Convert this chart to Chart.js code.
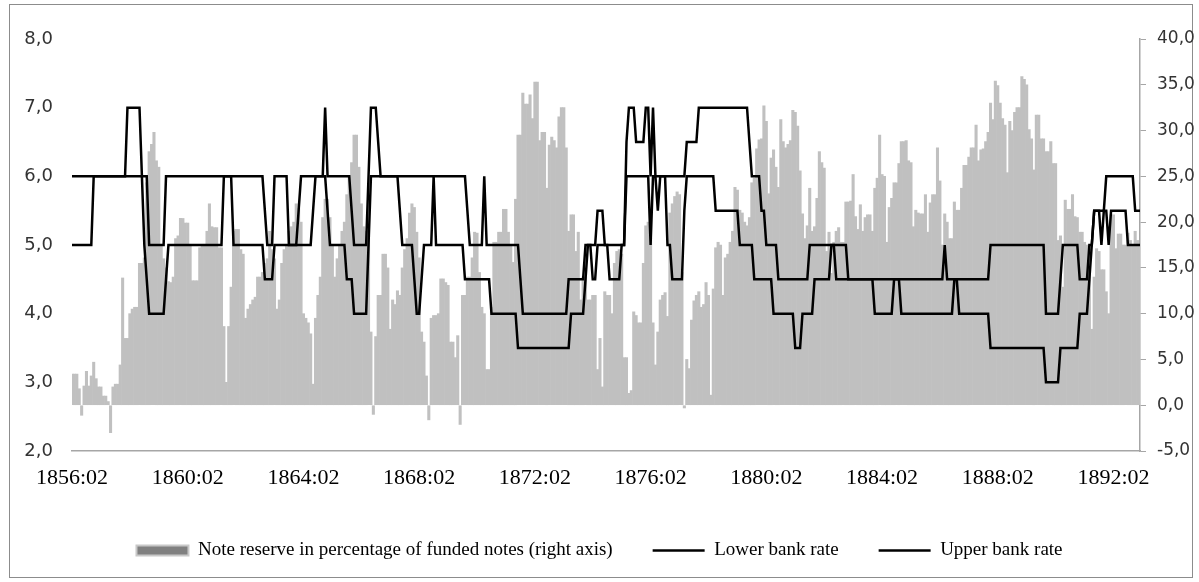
<!DOCTYPE html>
<html>
<head>
<meta charset="utf-8">
<script src="https://cdn.jsdelivr.net/npm/chart.js@4.4.0/dist/chart.umd.min.js"></script>
<style>
  html, body { margin: 0; padding: 0; background: #fff; }
  #wrap { position: relative; width: 1199px; height: 582px; }
</style>
</head>
<body>
<div id="wrap"><canvas id="grafico"></canvas></div>
<script>
// Monthly series, first month 1856:02
const startYear = 1856;
const startMonth = 2;
const tickEvery = 48;

// Note reserve in % of funded notes (right axis)
const noteReserve = [
  3.4, 3.4, 3.4, 1.8, -1.1, 2.1, 3.7, 2.1, 3.2, 4.7, 2.9, 2.0,
  2.0, 1.0, 1.0, 0.4, -3.0, 2.0, 2.3, 2.3, 4.4, 13.9, 7.3, 7.3,
  10.0, 10.5, 10.7, 10.7, 15.5, 15.5, 16.1, 24.3, 27.7, 28.5, 29.8, 26.7,
  26.0, 17.5, 16.0, 15.0, 13.5, 13.4, 14.0, 18.2, 18.5, 20.4, 20.4, 19.9,
  19.9, 17.5, 13.6, 13.6, 13.6, 17.2, 17.5, 17.5, 19.0, 22.0, 19.5, 19.4,
  19.4, 17.2, 17.2, 8.6, 2.5, 8.6, 12.9, 19.0, 19.2, 19.2, 17.0, 16.5,
  9.5, 10.5, 11.0, 11.5, 11.8, 14.0, 14.0, 14.5, 15.5, 16.0, 19.0, 17.0,
  16.0, 10.5, 11.5, 15.5, 17.0, 17.5, 19.0, 19.5, 20.0, 22.0, 21.5, 20.0,
  10.0, 9.5, 9.0, 7.8, 2.3, 9.5, 12.0, 14.0, 20.5, 22.5, 22.5, 20.5,
  17.5, 14.0, 16.0, 17.5, 19.0, 20.0, 23.0, 25.0, 26.5, 29.5, 29.5, 26.0,
  22.0, 19.5, 19.0, 18.5, 8.0, -1.0, 7.5, 12.0, 12.0, 16.5, 16.5, 15.0,
  8.3, 11.5, 11.0, 12.5, 12.0, 15.0, 17.0, 18.2, 21.0, 22.0, 21.6, 18.9,
  16.1, 8.0, 6.9, 3.2, -1.6, 9.5, 9.8, 9.8, 10.0, 13.8, 13.8, 13.4,
  13.1, 6.9, 6.9, 5.2, 7.6, -2.1, 12.0, 12.0, 14.0, 14.0, 16.1, 18.9,
  18.8, 14.5, 10.7, 10.0, 3.9, 3.9, 10.7, 17.8, 17.8, 18.9, 18.9, 21.4,
  21.4, 18.9, 17.5, 15.6, 22.5, 29.5, 29.5, 34.1, 32.9, 32.9, 33.9, 31.3,
  35.3, 35.3, 28.9, 29.8, 29.8, 23.7, 28.4, 29.3, 28.9, 28.1, 31.5, 32.5,
  32.5, 28.1, 19.0, 20.8, 20.8, 16.8, 18.9, 11.5, 14.0, 14.0, 11.5, 11.5,
  12.0, 12.0, 3.9, 7.3, 2.0, 12.4, 12.0, 12.0, 10.0, 15.5, 16.8, 17.0,
  16.5, 5.2, 5.2, 1.3, 1.6, 10.2, 9.8, 9.0, 9.0, 15.5, 19.6, 20.0,
  18.2, 9.0, 4.4, 8.0, 11.5, 12.0, 12.3, 9.7, 21.0, 22.0, 22.8, 23.3,
  23.0, 14.5, -0.3, 5.0, 4.0, 9.3, 11.4, 12.0, 12.4, 10.7, 11.0, 13.4,
  12.0, 1.1, 12.7, 17.2, 17.8, 17.5, 12.0, 16.1, 16.5, 17.8, 19.0, 23.8,
  23.5, 21.3, 21.0, 20.0, 19.6, 20.5, 24.3, 24.8, 28.0, 29.0, 29.1, 32.7,
  31.0, 23.1, 27.0, 27.9, 26.0, 23.8, 31.2, 28.8, 28.1, 28.5, 28.9, 32.2,
  32.0, 30.5, 25.6, 20.9, 18.2, 19.6, 23.7, 19.0, 19.5, 22.6, 27.7, 26.5,
  25.9, 16.8, 18.9, 14.4, 17.8, 19.0, 19.4, 17.8, 17.8, 22.2, 22.2, 22.3,
  25.2, 20.6, 19.2, 21.9, 19.0, 20.5, 20.8, 20.8, 19.0, 23.7, 24.8, 29.5,
  25.2, 25.0, 17.8, 21.6, 22.6, 24.3, 24.3, 26.4, 28.8, 28.8, 28.9, 26.7,
  26.5, 19.5, 21.3, 21.0, 20.9, 20.9, 23.0, 18.9, 22.1, 23.0, 23.0, 28.1,
  24.5, 17.5, 20.9, 20.0, 18.2, 18.2, 22.2, 21.3, 21.3, 23.7, 26.2, 26.2,
  27.1, 28.1, 28.1, 30.6, 26.7, 27.9, 28.0, 28.8, 29.8, 33.0, 31.2, 35.4,
  34.9, 33.0, 31.3, 30.6, 25.4, 31.0, 30.0, 32.0, 32.5, 32.5, 35.9, 35.6,
  35.0, 30.1, 29.1, 25.7, 31.7, 31.7, 29.1, 29.1, 27.7, 27.7, 28.8, 26.4,
  26.4, 18.0, 18.5, 12.9, 22.4, 21.4, 21.4, 23.0, 20.6, 20.5, 18.9, 18.9,
  17.8, 17.5, 17.0, 8.3, 14.0, 17.1, 16.8, 14.8, 14.8, 12.4, 10.0, 20.8,
  20.8, 17.1, 18.7, 18.7, 17.5, 17.5, 18.8, 18.0, 17.5, 19.0, 18.0, 17.5
];

// Lower bank rate (left axis)
const lowerRate = [
  5, 5, 5, 5, 5, 5, 5, 5, 5, 6, 6, 6,
  6, 6, 6, 6, 6, 6, 6, 6, 6, 6, 6, 6,
  6, 6, 6, 6, 6, 6, 5, 4.5, 4, 4, 4, 4,
  4, 4, 4, 4.5, 5, 5, 5, 5, 5, 5, 5, 5,
  5, 5, 5, 5, 5, 5, 5, 5, 5, 5, 5, 5,
  5, 5, 5, 6, 6, 6, 6, 5, 5, 5, 5, 5,
  5, 5, 5, 5, 5, 5, 5, 5, 4.5, 4.5, 4.5, 4.5,
  5, 5, 5, 5, 5, 5, 5, 5, 5, 5, 5, 5,
  5, 5, 5, 5, 5.5, 6, 6, 6, 6, 6, 5.5, 5,
  5, 5, 5, 5, 5, 5, 4.5, 4.5, 4.5, 4, 4, 4,
  4, 4, 4, 5, 6, 6, 6, 6, 6, 6, 6, 6,
  6, 6, 6, 6, 5.5, 5, 5, 5, 5, 5, 4.5, 4,
  4, 4.5, 5, 5, 5, 5, 6, 5, 5, 5, 5, 5,
  5, 5, 5, 5, 5, 5, 5, 4.5, 4.5, 4.5, 4.5, 4.5,
  4.5, 4.5, 4.5, 4.5, 4.5, 4.5, 4, 4, 4, 4, 4, 4,
  4, 4, 4, 4, 4, 3.5, 3.5, 3.5, 3.5, 3.5, 3.5, 3.5,
  3.5, 3.5, 3.5, 3.5, 3.5, 3.5, 3.5, 3.5, 3.5, 3.5, 3.5, 3.5,
  3.5, 3.5, 3.5, 4, 4, 4, 4, 4, 4, 4.5, 5, 5,
  4.5, 4.5, 5, 5, 5, 5, 5, 4.5, 4.5, 4.5, 4.5, 4.5,
  5, 5, 6, 6, 6, 6, 6, 6, 6, 6, 6, 6,
  5, 6, 6, 5.5, 6, 6, 6, 5, 5, 4.5, 4.5, 4.5,
  4.5, 4.5, 5.5, 6, 6, 6, 6, 6, 6, 6, 6, 6,
  6, 6, 6, 5.5, 5.5, 5.5, 5.5, 5.5, 5.5, 5.5, 5.5, 5.5,
  5.5, 5, 5, 5, 5, 5, 5, 4.5, 4.5, 4.5, 4.5, 4.5,
  4.5, 4.5, 4.5, 4, 4, 4, 4, 4, 4, 4, 4, 4,
  3.5, 3.5, 3.5, 4, 4, 4, 4, 4, 4.5, 4.5, 4.5, 4.5,
  4.5, 4.5, 4.5, 5, 5, 4.5, 4.5, 4.5, 4.5, 4.5, 4.5, 4.5,
  4.5, 4.5, 4.5, 4.5, 4.5, 4.5, 4.5, 4.5, 4.5, 4, 4, 4,
  4, 4, 4, 4, 4, 4.5, 4.5, 4.5, 4, 4, 4, 4,
  4, 4, 4, 4, 4, 4, 4, 4, 4, 4, 4, 4,
  4, 4, 4, 4, 4, 4, 4.5, 4.5, 4, 4, 4, 4,
  4, 4, 4, 4, 4, 4, 4, 4, 4, 3.5, 3.5, 3.5,
  3.5, 3.5, 3.5, 3.5, 3.5, 3.5, 3.5, 3.5, 3.5, 3.5, 3.5, 3.5,
  3.5, 3.5, 3.5, 3.5, 3.5, 3.5, 3.5, 3.5, 3, 3, 3, 3,
  3, 3, 3.5, 3.5, 3.5, 3.5, 3.5, 3.5, 3.5, 3.5, 4, 4,
  4, 4, 4.5, 5, 5.5, 5.5, 5.5, 5, 5.5, 5.5, 5, 5.5,
  5.5, 5.5, 5.5, 5.5, 5.5, 5.5, 5, 5, 5, 5, 5, 5
];

// Upper bank rate (left axis)
const upperRate = [
  6, 6, 6, 6, 6, 6, 6, 6, 6, 6, 6, 6,
  6, 6, 6, 6, 6, 6, 6, 6, 6, 6, 6, 7,
  7, 7, 7, 7, 7, 6, 6, 6, 5, 5, 5, 5,
  5, 5, 5, 6, 6, 6, 6, 6, 6, 6, 6, 6,
  6, 6, 6, 6, 6, 6, 6, 6, 6, 6, 6, 6,
  6, 6, 6, 6, 6, 6, 6, 6, 6, 6, 6, 6,
  6, 6, 6, 6, 6, 6, 6, 6, 5.5, 5, 5, 5,
  6, 6, 6, 6, 6, 6, 5, 5, 5, 5, 5.5, 6,
  6, 6, 6, 6, 6, 6, 6, 6, 6, 7, 6, 6,
  6, 6, 6, 6, 6, 6, 6, 6, 5.5, 5, 5, 5,
  5, 5, 5, 6, 7, 7, 7, 6.5, 6, 6, 6, 6,
  6, 6, 6, 6, 6, 6, 6, 6, 6, 6, 6, 6,
  6, 6, 6, 6, 6, 6, 6, 6, 6, 6, 6, 6,
  6, 6, 6, 6, 6, 6, 6, 6, 5.5, 5, 5, 5,
  5, 5, 5, 6, 5, 5, 5, 5, 5, 5, 5, 5,
  5, 5, 5, 5, 5, 5, 4.5, 4, 4, 4, 4, 4,
  4, 4, 4, 4, 4, 4, 4, 4, 4, 4, 4, 4,
  4, 4, 4.5, 4.5, 4.5, 4.5, 4.5, 4.5, 4.5, 5, 5, 5,
  5, 5, 5.5, 5.5, 5.5, 5, 5, 5, 5, 5, 5, 5,
  5, 5, 6.5, 7, 7, 7, 6.5, 6.5, 6.5, 6.5, 7, 7,
  6, 7, 6, 6, 6, 6, 6, 6, 6, 6, 6, 6,
  6, 6, 6, 6.5, 6.5, 6.5, 6.5, 6.5, 7, 7, 7, 7,
  7, 7, 7, 7, 7, 7, 7, 7, 7, 7, 7, 7,
  7, 7, 7, 7, 7, 6.5, 6, 6, 6, 6, 5.5, 5.5,
  5, 5, 5, 5, 5, 4.5, 4.5, 4.5, 4.5, 4.5, 4.5, 4.5,
  4.5, 4.5, 4.5, 4.5, 4.5, 4.5, 5, 5, 5, 5, 5, 5,
  5, 5, 5, 5, 5, 5, 5, 5, 5, 5, 4.5, 4.5,
  4.5, 4.5, 4.5, 4.5, 4.5, 4.5, 4.5, 4.5, 4.5, 4.5, 4.5, 4.5,
  4.5, 4.5, 4.5, 4.5, 4.5, 4.5, 4.5, 4.5, 4.5, 4.5, 4.5, 4.5,
  4.5, 4.5, 4.5, 4.5, 4.5, 4.5, 4.5, 4.5, 4.5, 4.5, 4.5, 4.5,
  4.5, 4.5, 5, 4.5, 4.5, 4.5, 4.5, 4.5, 4.5, 4.5, 4.5, 4.5,
  4.5, 4.5, 4.5, 4.5, 4.5, 4.5, 4.5, 4.5, 4.5, 5, 5, 5,
  5, 5, 5, 5, 5, 5, 5, 5, 5, 5, 5, 5,
  5, 5, 5, 5, 5, 5, 5, 5, 4, 4, 4, 4,
  4, 4, 4.5, 5, 5, 5, 5, 5, 5, 5, 4.5, 4.5,
  4.5, 4.5, 5, 5, 5.5, 5.5, 5.5, 5.5, 5.5, 6, 6, 6,
  6, 6, 6, 6, 6, 6, 6, 6, 6, 5.5, 5.5, 5.5
];

// labels 1856:02, 1856:03, ...
const meses = [];
for (let k = 0; k < noteReserve.length; k++) {
  const m = startMonth - 1 + k;
  const ano = startYear + Math.floor(m / 12);
  const mes = (m % 12) + 1;
  meses.push(ano + ':' + String(mes).padStart(2, '0'));
}

const virgula = v => v.toFixed(1).replace('.', ',');

// grey frame around the whole chart
const moldura = {
  id: 'moldura',
  beforeDraw(chart) {
    const ctx = chart.ctx;
    ctx.save();
    ctx.fillStyle = '#fff';
    ctx.fillRect(0, 0, chart.width, chart.height);
    ctx.strokeStyle = '#8c8c8c';
    ctx.lineWidth = 1;
    ctx.strokeRect(9.5, 4.5, 1183, 573);
    ctx.restore();
  }
};

const grafico = new Chart(document.getElementById('grafico').getContext('2d'), {
  data: {
    labels: meses,
    datasets: [
      {
        type: 'bar',
        label: 'Note reserve in percentage of funded notes (right axis)',
        data: noteReserve,
        backgroundColor: '#c0c0c0',
        borderWidth: 0,
        barPercentage: 1,
        categoryPercentage: 1,
        yAxisID: 'y1',
        order: 2
      },
      {
        type: 'line',
        label: 'Lower bank rate',
        data: lowerRate,
        borderColor: '#000',
        borderWidth: 2.5,
        pointRadius: 0,
        tension: 0,
        fill: false,
        yAxisID: 'y',
        order: 1
      },
      {
        type: 'line',
        label: 'Upper bank rate',
        data: upperRate,
        borderColor: '#000',
        borderWidth: 2.5,
        pointRadius: 0,
        tension: 0,
        fill: false,
        yAxisID: 'y',
        order: 0
      }
    ]
  },
  options: {
    responsive: true,
    maintainAspectRatio: false,
    animation: false,
    layout: { padding: { top: 39, left: 0, right: 0, bottom: 12 } },
    plugins: {
      tooltip: { enabled: false },
      legend: {
        position: 'bottom',
        labels: {
          usePointStyle: true,
          pointStyleWidth: 52,
          boxHeight: 10,
          padding: 40,
          color: '#000',
          font: { family: 'Liberation Serif', size: 19 },
          sort: (a, b) => a.datasetIndex - b.datasetIndex,
          generateLabels(chart) {
            return chart.data.datasets.map((ds, i) => ({
              text: ds.label,
              datasetIndex: i,
              pointStyle: ds.type === 'bar' ? 'rect' : 'line',
              fillStyle: ds.type === 'bar' ? '#808080' : '#000',
              strokeStyle: ds.type === 'bar' ? '#c8c8c8' : '#000',
              lineWidth: ds.type === 'bar' ? 2 : 2.5,
              fontColor: '#000',
              hidden: false
            }));
          }
        }
      }
    },
    scales: {
      x: {
        type: 'category',
        offset: false,
        grid: { display: false, drawTicks: false },
        border: { display: true, color: '#a6a6a6', width: 1.5 },
        ticks: {
          autoSkip: false,
          maxRotation: 0,
          padding: 14,
          color: '#000',
          font: { family: 'Liberation Serif', size: 22 },
          callback(value, index) {
            return index % tickEvery === 0 ? this.getLabelForValue(value) : null;
          }
        },
        afterFit(scale) { scale.height = 50; }
      },
      y: {
        position: 'left',
        min: 2,
        max: 8,
        grid: { display: false, drawTicks: false },
        border: { display: false },
        ticks: {
          stepSize: 1,
          padding: 19,
          color: '#333',
          font: { family: 'DejaVu Sans', size: 18 },
          callback: v => virgula(v)
        },
        afterFit(scale) { scale.width = 72; }
      },
      y1: {
        position: 'right',
        min: -5,
        max: 40,
        grid: { display: true, drawOnChartArea: false, drawTicks: true, tickLength: 6, color: '#a6a6a6' },
        border: { display: true, color: '#a6a6a6', width: 1.5 },
        ticks: {
          stepSize: 5,
          padding: 11,
          color: '#333',
          font: { family: 'DejaVu Sans', size: 17 },
          callback: v => virgula(v)
        },
        afterFit(scale) { scale.width = 59; }
      }
    }
  },
  plugins: [moldura]
});
</script>
</body>
</html>
